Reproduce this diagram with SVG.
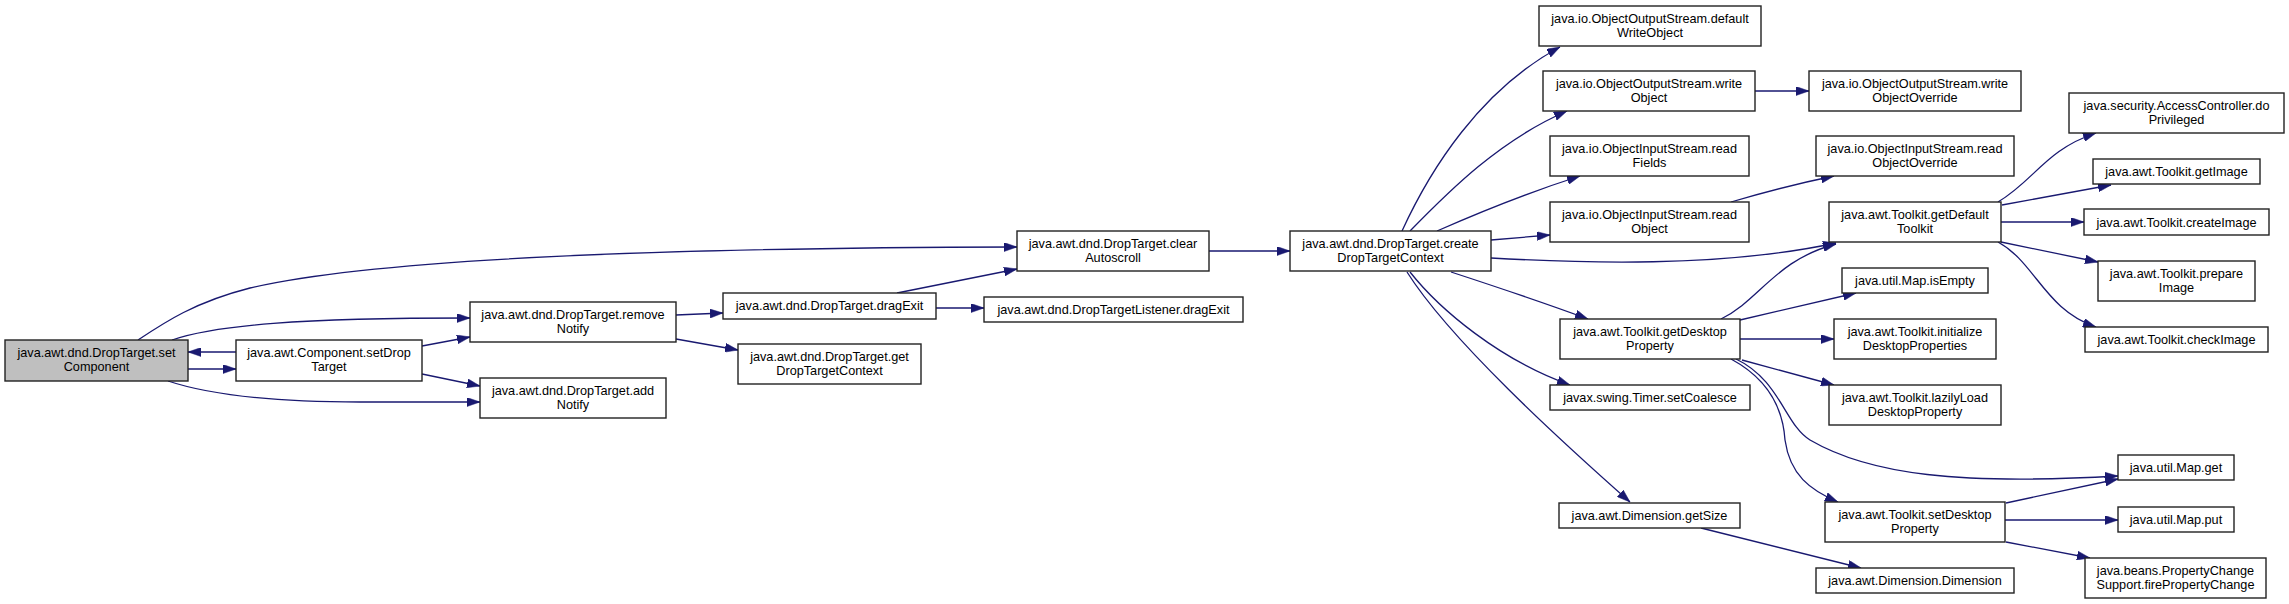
<svg xmlns="http://www.w3.org/2000/svg" width="2289" height="604" viewBox="0 0 2289 604">
<style>
.n rect{fill:#fff;stroke:#222;stroke-width:1.4}
.n.root rect{fill:#bfbfbf}
.n text{font-family:"Liberation Sans",Arial,sans-serif;font-size:12.7px;fill:#000;text-anchor:middle}
.e path{fill:none;stroke:#191970;stroke-width:1.3;marker-end:url(#ah)}
</style>
<defs>
<marker id="ah" markerUnits="userSpaceOnUse" viewBox="0 0 13 9" refX="13" refY="4.5" markerWidth="13" markerHeight="9" orient="auto">
<path d="M0,0 L13,4.5 L0,9 Z" fill="#191970" stroke="#191970" stroke-width="0.5"/>
</marker>
</defs>
<rect width="2289" height="604" fill="#fff"/>
<g class="e" id="edges">
<path d="M138,340 C165,322 195,302 250,288 C360,262 600,248 1017,247"/>
<path d="M172,340 C215,325 300,318 470,318"/>
<path d="M188,369 L236,369"/>
<path d="M236,352 L188,352"/>
<path d="M168,381 C210,395 270,402 360,402 L480,402"/>
<path d="M422,346 L470,337"/>
<path d="M422,374 L480,386"/>
<path d="M676,315 L723,313"/>
<path d="M676,339 L738,350"/>
<path d="M897,293 L1017,269"/>
<path d="M936,308 L984,308"/>
<path d="M1209,251 L1290,251"/>
<path d="M1402,231 C1430,170 1480,90 1560,47"/>
<path d="M1410,231 C1450,190 1500,140 1567,111"/>
<path d="M1437,231 C1480,212 1530,192 1580,176"/>
<path d="M1491,240 L1550,235"/>
<path d="M1491,258 C1580,263 1720,268 1836,243"/>
<path d="M1451,272 C1500,288 1550,305 1588,319"/>
<path d="M1410,272 C1440,310 1500,360 1570,385"/>
<path d="M1407,272 C1450,340 1560,440 1630,502"/>
<path d="M1731,202 C1765,192 1800,183 1834,176"/>
<path d="M1755,91 L1809,91"/>
<path d="M1998,202 C2035,180 2045,150 2096,133"/>
<path d="M2002,205 L2111,185"/>
<path d="M2001,222 L2084,222"/>
<path d="M2001,242 L2098,262"/>
<path d="M1998,242 C2035,262 2045,310 2096,327"/>
<path d="M1721,319 C1760,300 1775,260 1836,244"/>
<path d="M1740,320 L1856,293"/>
<path d="M1740,339 L1834,339"/>
<path d="M1742,360 L1834,385"/>
<path d="M1736,359 C1780,380 1785,425 1810,440 C1870,475 1960,485 2118,476"/>
<path d="M1731,359 C1770,380 1783,410 1785,440 C1790,475 1810,490 1838,502"/>
<path d="M2006,503 L2118,479"/>
<path d="M2005,520 L2118,520"/>
<path d="M2006,542 L2090,558"/>
<path d="M1701,528 L1861,568"/>
</g>
<g class="n root" id="n1"><rect x="5" y="340" width="183" height="41"/><text x="96.5" y="356.5">java.awt.dnd.DropTarget.set</text><text x="96.5" y="370.5">Component</text></g>
<g class="n" id="n2"><rect x="236" y="340" width="186" height="41"/><text x="329" y="356.5">java.awt.Component.setDrop</text><text x="329" y="370.5">Target</text></g>
<g class="n" id="n3"><rect x="470" y="302" width="206" height="40"/><text x="573" y="318.5">java.awt.dnd.DropTarget.remove</text><text x="573" y="332.5">Notify</text></g>
<g class="n" id="n4"><rect x="480" y="378" width="186" height="40"/><text x="573" y="394.5">java.awt.dnd.DropTarget.add</text><text x="573" y="408.5">Notify</text></g>
<g class="n" id="n5"><rect x="723" y="293" width="213" height="26"/><text x="829.5" y="310">java.awt.dnd.DropTarget.dragExit</text></g>
<g class="n" id="n6"><rect x="984" y="297" width="259" height="25"/><text x="1113.5" y="314">java.awt.dnd.DropTargetListener.dragExit</text></g>
<g class="n" id="n7"><rect x="738" y="344" width="183" height="40"/><text x="829.5" y="360.5">java.awt.dnd.DropTarget.get</text><text x="829.5" y="374.5">DropTargetContext</text></g>
<g class="n" id="n8"><rect x="1017" y="231" width="192" height="40"/><text x="1113" y="247.5">java.awt.dnd.DropTarget.clear</text><text x="1113" y="261.5">Autoscroll</text></g>
<g class="n" id="n9"><rect x="1290" y="231" width="201" height="40"/><text x="1390.5" y="247.5">java.awt.dnd.DropTarget.create</text><text x="1390.5" y="261.5">DropTargetContext</text></g>
<g class="n" id="n10"><rect x="1539" y="6" width="222" height="40"/><text x="1650" y="22.5">java.io.ObjectOutputStream.default</text><text x="1650" y="36.5">WriteObject</text></g>
<g class="n" id="n11"><rect x="1543" y="71" width="212" height="40"/><text x="1649" y="87.5">java.io.ObjectOutputStream.write</text><text x="1649" y="101.5">Object</text></g>
<g class="n" id="n12"><rect x="1809" y="71" width="212" height="40"/><text x="1915" y="87.5">java.io.ObjectOutputStream.write</text><text x="1915" y="101.5">ObjectOverride</text></g>
<g class="n" id="n13"><rect x="1550" y="136" width="199" height="40"/><text x="1649.5" y="152.5">java.io.ObjectInputStream.read</text><text x="1649.5" y="166.5">Fields</text></g>
<g class="n" id="n14"><rect x="1816" y="136" width="198" height="40"/><text x="1915" y="152.5">java.io.ObjectInputStream.read</text><text x="1915" y="166.5">ObjectOverride</text></g>
<g class="n" id="n15"><rect x="1550" y="202" width="199" height="40"/><text x="1649.5" y="218.5">java.io.ObjectInputStream.read</text><text x="1649.5" y="232.5">Object</text></g>
<g class="n" id="n16"><rect x="1829" y="202" width="172" height="40"/><text x="1915" y="218.5">java.awt.Toolkit.getDefault</text><text x="1915" y="232.5">Toolkit</text></g>
<g class="n" id="n17"><rect x="2069" y="93" width="215" height="40"/><text x="2176.5" y="109.5">java.security.AccessController.do</text><text x="2176.5" y="123.5">Privileged</text></g>
<g class="n" id="n18"><rect x="2093" y="159" width="167" height="25"/><text x="2176.5" y="176">java.awt.Toolkit.getImage</text></g>
<g class="n" id="n19"><rect x="2084" y="209" width="185" height="26"/><text x="2176.5" y="226.5">java.awt.Toolkit.createImage</text></g>
<g class="n" id="n20"><rect x="2098" y="261" width="157" height="40"/><text x="2176.5" y="277.5">java.awt.Toolkit.prepare</text><text x="2176.5" y="291.5">Image</text></g>
<g class="n" id="n21"><rect x="2085" y="327" width="183" height="25"/><text x="2176.5" y="344">java.awt.Toolkit.checkImage</text></g>
<g class="n" id="n22"><rect x="1842" y="268" width="146" height="25"/><text x="1915" y="285">java.util.Map.isEmpty</text></g>
<g class="n" id="n23"><rect x="1560" y="319" width="180" height="40"/><text x="1650" y="335.5">java.awt.Toolkit.getDesktop</text><text x="1650" y="349.5">Property</text></g>
<g class="n" id="n24"><rect x="1834" y="319" width="162" height="40"/><text x="1915" y="335.5">java.awt.Toolkit.initialize</text><text x="1915" y="349.5">DesktopProperties</text></g>
<g class="n" id="n25"><rect x="1550" y="385" width="200" height="25"/><text x="1650" y="402">javax.swing.Timer.setCoalesce</text></g>
<g class="n" id="n26"><rect x="1829" y="385" width="172" height="40"/><text x="1915" y="401.5">java.awt.Toolkit.lazilyLoad</text><text x="1915" y="415.5">DesktopProperty</text></g>
<g class="n" id="n27"><rect x="2118" y="455" width="116" height="25"/><text x="2176" y="472">java.util.Map.get</text></g>
<g class="n" id="n28"><rect x="1559" y="503" width="181" height="25"/><text x="1649.5" y="520">java.awt.Dimension.getSize</text></g>
<g class="n" id="n29"><rect x="1825" y="502" width="180" height="40"/><text x="1915" y="518.5">java.awt.Toolkit.setDesktop</text><text x="1915" y="532.5">Property</text></g>
<g class="n" id="n30"><rect x="2118" y="507" width="116" height="25"/><text x="2176" y="524">java.util.Map.put</text></g>
<g class="n" id="n31"><rect x="2085" y="558" width="181" height="40"/><text x="2175.5" y="574.5">java.beans.PropertyChange</text><text x="2175.5" y="588.5">Support.firePropertyChange</text></g>
<g class="n" id="n32"><rect x="1816" y="568" width="198" height="25"/><text x="1915" y="585">java.awt.Dimension.Dimension</text></g>
</svg>
